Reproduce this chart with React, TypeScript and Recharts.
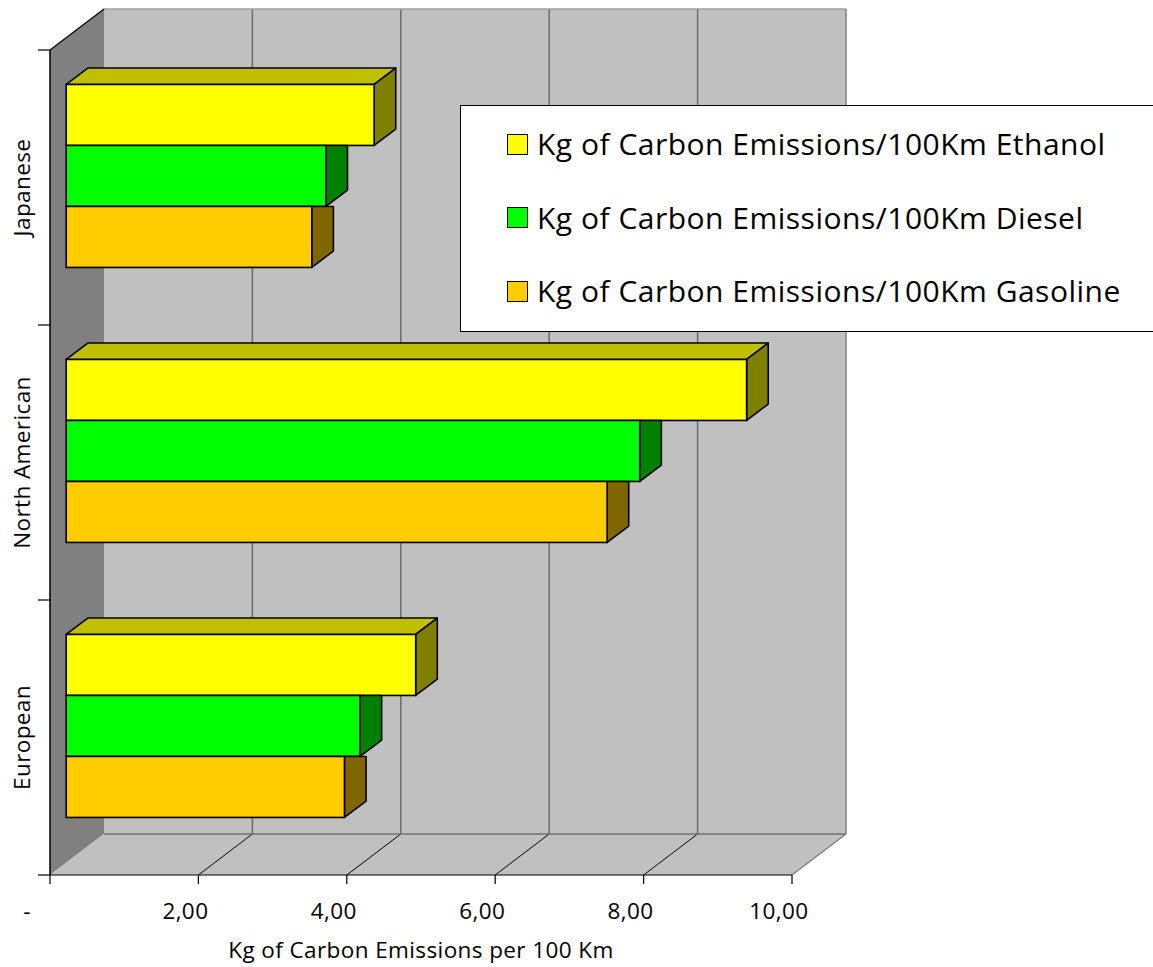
import React from 'react';
import { BarChart, Bar, XAxis, YAxis, ReferenceArea, Legend } from 'recharts';

// ---- data ----
const categories = ['Japanese', 'North American', 'European'];
const ethanol = [4.15, 9.17, 4.71];
const diesel = [3.5, 7.73, 3.96];
const gasoline = [3.31, 7.29, 3.75];
const xTicks = [0, 2, 4, 6, 8, 10];
const seriesNames = [
  'Kg of Carbon Emissions/100Km Ethanol',
  'Kg of Carbon Emissions/100Km Diesel',
  'Kg of Carbon Emissions/100Km Gasoline',
];
const xAxisTitle = 'Kg of Carbon Emissions per 100 Km';

const data = categories.map((c, i) => ({
  name: c,
  ethanol: ethanol[i],
  diesel: diesel[i],
  gasoline: gasoline[i],
}));

// ---- styles ----
const FONT = '"Open Sans", "DejaVu Sans", sans-serif';
const AXIS_FONT_SIZE = 22.5;
const AXIS_SPACING = 0.4;
const LEGEND_FONT_SIZE = 30;
const LEGEND_SPACING = 0.5;
const DEPTH_X = 54;
const DEPTH_Y = 41;
const BAR_FRONT = 0.3;
const BAR_DEPTH = 0.4;

const series = [
  { key: 'ethanol', name: seriesNames[0], fill: '#FFFF00', side: '#808000', top: '#C0C000' },
  { key: 'diesel', name: seriesNames[1], fill: '#00FF00', side: '#008000', top: '#00C000' },
  { key: 'gasoline', name: seriesNames[2], fill: '#FFCC00', side: '#806600', top: '#C09900' },
];

const makeShape = (idx: number, fill: string, side: string, top: string) => (props: any) => {
  const { x, y, width, height } = props;
  if (width == null || height == null) return null;
  const fx = x + BAR_FRONT * DEPTH_X;
  const fy = y - BAR_FRONT * DEPTH_Y;
  const dx = BAR_DEPTH * DEPTH_X;
  const dy = BAR_DEPTH * DEPTH_Y;
  const r = fx + width;
  const b = fy + height;
  const sw = 1.6;
  return (
    <g>
      {idx === 0 ? (
        <>
          <polygon
            points={`${fx},${fy} ${fx + dx},${fy - dy} ${r + dx},${fy - dy} ${r},${fy}`}
            fill={top}
            stroke="#000"
            strokeWidth={sw}
            strokeLinejoin="round"
          />
          <polygon
            points={`${r},${fy} ${r + dx},${fy - dy} ${r + dx},${b - dy} ${r},${b}`}
            fill={side}
            stroke="#000"
            strokeWidth={sw}
            strokeLinejoin="round"
          />
        </>
      ) : (
        <polygon
          points={`${r},${fy} ${r + dx},${fy} ${r + dx},${b - dy} ${r},${b}`}
          fill={side}
          stroke="#000"
          strokeWidth={sw}
          strokeLinejoin="round"
        />
      )}
      <rect x={fx} y={fy} width={width} height={height} fill={fill} stroke="#000" strokeWidth={sw} />
    </g>
  );
};

const WallBox = (props: any) => {
  const { x, y, width, height } = props;
  if (width == null) return null;
  const n = categories.length;
  const maxV = xTicks[xTicks.length - 1];
  const bx = x + DEPTH_X;
  const by = y - DEPTH_Y;
  const fb = y + height;
  const bb = fb - DEPTH_Y;
  const r = x + width;
  const br = bx + width;
  return (
    <g>
      <rect x={bx} y={by} width={width} height={height} fill="#C0C0C0" />
      <polygon points={`${x},${y} ${bx},${by} ${bx},${bb} ${x},${fb}`} fill="#808080" />
      <polygon points={`${x},${fb} ${bx},${bb} ${br},${bb} ${r},${fb}`} fill="#C0C0C0" />
      {xTicks
        .filter((t) => t > 0 && t < maxV)
        .map((t) => {
          const px = (t / maxV) * width;
          return (
            <g key={t}>
              <line x1={bx + px} y1={by} x2={bx + px} y2={bb} stroke="#6A6A6A" strokeWidth={1.5} />
              <line x1={x + px} y1={fb} x2={bx + px} y2={bb} stroke="#000" strokeWidth={1} />
            </g>
          );
        })}
      <line x1={bx} y1={by} x2={br} y2={by} stroke="#A0A0A0" strokeWidth={1.5} />
      <line x1={br} y1={by} x2={br} y2={bb} stroke="#808080" strokeWidth={1.5} />
      <line x1={bx} y1={bb} x2={br} y2={bb} stroke="#707070" strokeWidth={1.5} />
      <line x1={r} y1={fb} x2={br} y2={bb} stroke="#808080" strokeWidth={1.5} />
      <line x1={x} y1={y} x2={bx} y2={by} stroke="#000" strokeWidth={1.2} />
      {Array.from({ length: n + 1 }).map((_, i) => {
        const ty = y + (i * height) / n;
        return <line key={i} x1={x - 12} y1={ty} x2={x} y2={ty} stroke="#000" strokeWidth={1.2} />;
      })}
    </g>
  );
};

const YTick = (props: any) => {
  const { x, y, payload } = props;
  const cx = x - 10;
  return (
    <text
      x={cx}
      y={y}
      transform={`rotate(-90, ${cx}, ${y})`}
      textAnchor="middle"
      fontFamily={FONT}
      fontSize={AXIS_FONT_SIZE}
      letterSpacing={AXIS_SPACING}
      fill="#000"
    >
      {payload.value}
    </text>
  );
};

const XTick = (props: any) => {
  const { x, y, payload } = props;
  const v = payload.value as number;
  const label = v === 0 ? '-' : v.toFixed(2).replace('.', ',');
  return (
    <text
      x={x - (v === 0 ? 23 : 13)}
      y={y + 33}
      textAnchor="middle"
      fontFamily={FONT}
      fontSize={AXIS_FONT_SIZE}
      letterSpacing={AXIS_SPACING}
      fill="#000"
    >
      {label}
    </text>
  );
};

const AxisTitle = (props: any) => {
  const vb = props.viewBox || {};
  return (
    <text
      x={vb.x + vb.width / 2}
      y={vb.y + vb.height - 9}
      textAnchor="middle"
      fontFamily={FONT}
      fontSize={AXIS_FONT_SIZE}
      letterSpacing={AXIS_SPACING}
      fill="#000"
    >
      {xAxisTitle}
    </text>
  );
};

const LegendBox = (props: any) => {
  const payload = ([...(props.payload || [])] as any[]).sort(
    (a, b) => seriesNames.indexOf(a.value) - seriesNames.indexOf(b.value)
  );
  return (
    <div
      style={{
        position: 'relative',
        width: '100%',
        height: '100%',
        boxSizing: 'border-box',
        border: '1.5px solid #000',
        borderRight: 'none',
        background: '#fff',
      }}
    >
      {payload.map((p: any, i: number) => (
        <div
          key={i}
          style={{
            position: 'absolute',
            left: 46,
            top: 38 + i * 73.5 - 22,
            height: 44,
            display: 'flex',
            alignItems: 'center',
            whiteSpace: 'nowrap',
          }}
        >
          <span
            style={{
              display: 'inline-block',
              width: 21,
              height: 21,
              border: '1.5px solid #000',
              background: p.color,
              marginRight: 9,
              boxSizing: 'border-box',
            }}
          />
          <span
            style={{
              display: 'inline-block',
              fontFamily: FONT,
              fontSize: LEGEND_FONT_SIZE,
              letterSpacing: LEGEND_SPACING,
              color: '#000',
              lineHeight: '44px',
            }}
          >
            {p.value}
          </span>
        </div>
      ))}
    </div>
  );
};

export default function App() {
  return (
    <div
      style={{
        position: 'absolute',
        left: 0,
        top: 0,
        width: 1153,
        height: 967,
        overflow: 'hidden',
        background: '#fff',
      }}
    >
      <BarChart
        width={1153}
        height={967}
        data={data}
        layout="vertical"
        margin={{ top: 50, right: 361, left: 0, bottom: 0 }}
        barCategoryGap="17%"
        barGap={0}
      >
        <XAxis
          type="number"
          domain={[0, 10]}
          ticks={xTicks}
          interval={0}
          height={92}
          tickSize={9}
          tickMargin={2}
          axisLine={{ stroke: '#000', strokeWidth: 1.2 }}
          tickLine={{ stroke: '#000', strokeWidth: 1.2 }}
          tick={<XTick />}
          label={<AxisTitle />}
        />
        <YAxis
          type="category"
          dataKey="name"
          width={50}
          tickSize={10}
          tickMargin={0}
          axisLine={{ stroke: '#000', strokeWidth: 1.5 }}
          tickLine={false}
          tick={<YTick />}
        />
        <ReferenceArea x1={0} x2={10} ifOverflow="visible" shape={<WallBox />} />
        {series.map((s, i) => (
          <Bar
            key={s.key}
            dataKey={s.key}
            name={s.name}
            fill={s.fill}
            isAnimationActive={false}
            shape={makeShape(i, s.fill, s.side, s.top)}
          />
        ))}
        <Legend
          layout="vertical"
          align="center"
          verticalAlign="middle"
          content={<LegendBox />}
          wrapperStyle={{ position: 'absolute', left: 460, top: 105, width: 693, height: 227 }}
        />
      </BarChart>
    </div>
  );
}
